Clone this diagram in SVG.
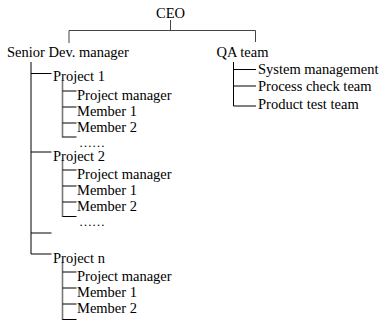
<svg xmlns="http://www.w3.org/2000/svg" width="382" height="324" viewBox="0 0 382 324">
<style>
text{font-family:"Liberation Serif","Times New Roman",serif;font-size:14.5px;fill:#000}
text.dots{font-size:13px}
.k{stroke:#000;stroke-width:1;fill:none}
.g{stroke:#777;stroke-width:1.6;fill:none}
.d{stroke:#444;stroke-width:1;fill:none}
</style>
<rect width="382" height="324" fill="#fff"/>
<g id="connectors">
<path class="d" d="M170.5 20V30.5M69 30.5H255.5M69 30.5V43M255.5 30.5V42"/>
<path class="k" d="M233.5 62V106M233.5 69.5H256M233.5 86H256M233.5 106H256"/>
<path class="k" d="M31 62V254M31 73.5H51.5M31 152H51.5M31 233H51.5M31 254H51.5"/>
<path class="g" d="M62.5 81V137.5M62.5 160V217M62.5 262V320"/>
<path class="k" d="M62.5 91H76.5M62.5 107H76.5M62.5 123H76.5M62.5 137H76.5"/>
<path class="k" d="M62.5 170H76.5M62.5 186H76.5M62.5 202H76.5M62.5 216.5H76.5"/>
<path class="k" d="M62.5 272H76.5M62.5 288H76.5M62.5 304H76.5M62.5 319.5H76.5"/>
</g>
<g id="ceo"><text x="156" y="18">CEO</text></g>
<g id="senior"><text x="7" y="57">Senior Dev. manager</text></g>
<g id="qa"><text x="216.5" y="57">QA team</text></g>
<g id="qa-sys"><text x="258" y="74">System management</text></g>
<g id="qa-proc"><text x="258" y="91">Process check team</text></g>
<g id="qa-prod"><text x="258" y="109">Product test team</text></g>
<g id="p1"><text x="53" y="81">Project 1</text></g>
<g id="p1-pm"><text x="77" y="100">Project manager</text></g>
<g id="p1-m1"><text x="77" y="116">Member 1</text></g>
<g id="p1-m2"><text x="77" y="132">Member 2</text></g>
<g id="p1-more"><text class="dots" x="79" y="146.5">……</text></g>
<g id="p2"><text x="53" y="161">Project 2</text></g>
<g id="p2-pm"><text x="77" y="179">Project manager</text></g>
<g id="p2-m1"><text x="77" y="195">Member 1</text></g>
<g id="p2-m2"><text x="77" y="211">Member 2</text></g>
<g id="p2-more"><text class="dots" x="79" y="225.5">……</text></g>
<g id="pn"><text x="53" y="263">Project n</text></g>
<g id="pn-pm"><text x="77" y="281">Project manager</text></g>
<g id="pn-m1"><text x="77" y="297">Member 1</text></g>
<g id="pn-m2"><text x="77" y="313">Member 2</text></g>
</svg>
